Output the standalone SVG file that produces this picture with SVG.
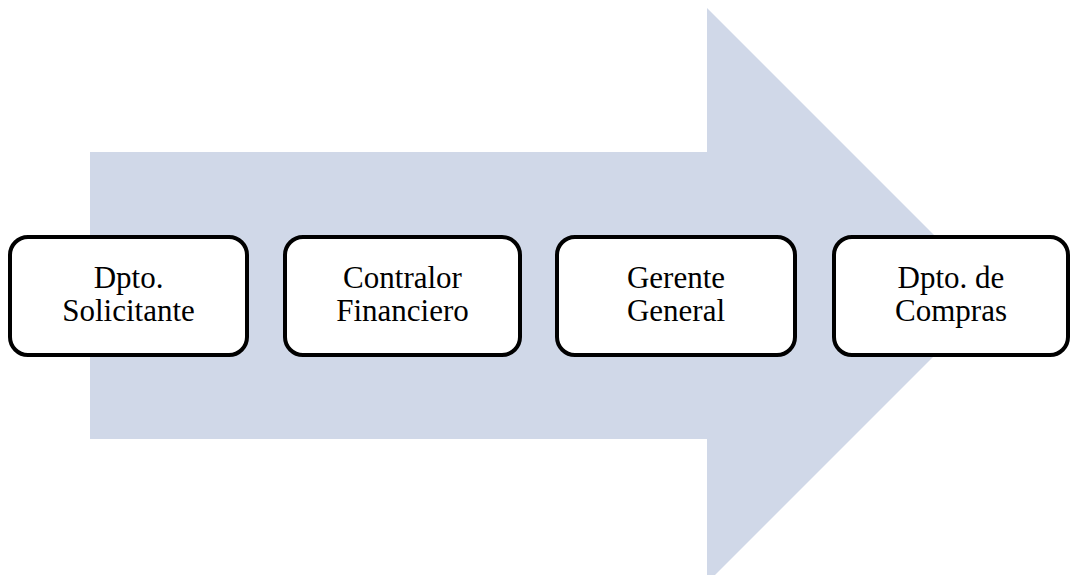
<svg xmlns="http://www.w3.org/2000/svg" width="1071" height="575" viewBox="0 0 1071 575">
<style>
.box{fill:#fff;stroke:#000;stroke-width:4}
.t{font-family:"Liberation Serif","Times New Roman",serif;font-size:31px;fill:#000;text-anchor:middle}
</style>
<rect width="1071" height="575" fill="#fff"/>
<polygon id="bigArrow" points="90,152 707,152 707,8 994.5,295.5 707,583 707,439 90,439" fill="#D0D8E8"/>
<g id="connectors"></g>
<g id="n1"><rect class="box" x="10" y="237" width="237" height="118" rx="18"/><text class="t" x="128.5" y="288">Dpto.</text><text class="t" x="128.5" y="321">Solicitante</text></g>
<g id="n2"><rect class="box" x="285" y="237" width="235" height="118" rx="18"/><text class="t" x="402.5" y="288">Contralor</text><text class="t" x="402.5" y="321">Financiero</text></g>
<g id="n3"><rect class="box" x="557" y="237" width="238" height="118" rx="18"/><text class="t" x="676" y="288">Gerente</text><text class="t" x="676" y="321">General</text></g>
<g id="n4"><rect class="box" x="834" y="237" width="234" height="118" rx="18"/><text class="t" x="951" y="288">Dpto. de</text><text class="t" x="951" y="321">Compras</text></g>
</svg>
